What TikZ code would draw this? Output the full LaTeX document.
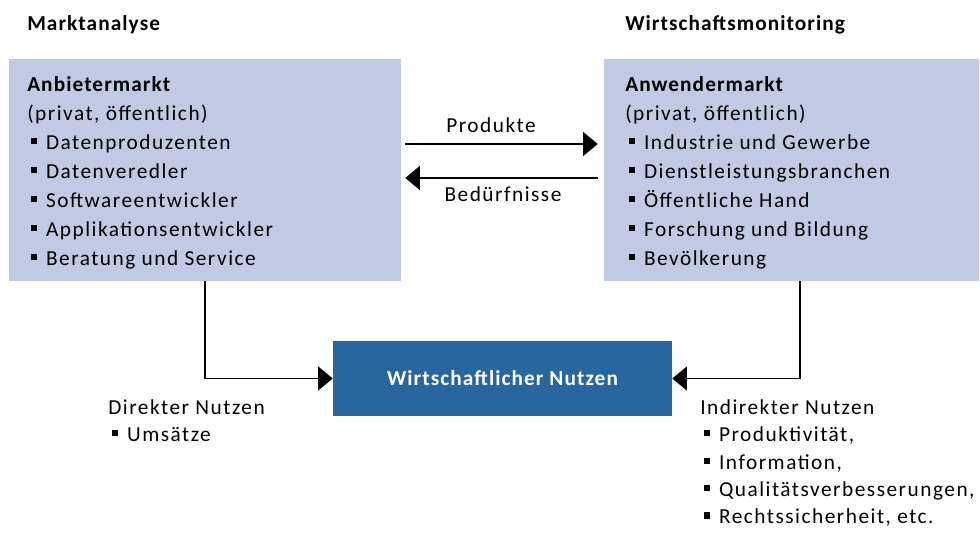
\documentclass[tikz,border=0pt]{standalone}
\usepackage{fontspec}
\setmainfont{Carlito}[LetterSpace=7, BoldFeatures={LetterSpace=5}]
\usetikzlibrary{arrows.meta, positioning, calc}
\definecolor{boxblue}{HTML}{C0CAE3}
\definecolor{nutzblue}{HTML}{27669E}
\newcommand{\sqbullet}{\hspace*{3pt}\rule[4pt]{4.6pt}{4.6pt}\hspace{6.5pt}}

\begin{document}
\begin{tikzpicture}[x=0.75pt, y=0.75pt,
    market/.style={rectangle, fill=boxblue, minimum width=#1, minimum height=166.5pt, inner sep=0pt},
    listtext/.style={anchor=north west, align=left, inner sep=0pt, font=\fontsize{16}{21.75}\selectfont},
    nutztext/.style={anchor=north west, align=left, inner sep=0pt, font=\fontsize{16}{20.6}\selectfont},
    heading/.style={anchor=base west, inner sep=0pt, font=\fontsize{16}{19}\selectfont\bfseries},
    flowlabel/.style={anchor=base, inner sep=0pt, font=\fontsize{16}{19}\selectfont},
    arrow/.style={-{Triangle[length=11pt, width=18pt]}, line width=1.1pt}
]
\useasboundingbox (0,0) rectangle (980,532);

% Headings
\node[heading] (hmarkt) at (27,501) {Marktanalyse};
\node[heading] (hwirt) at (625,501) {Wirtschaftsmonitoring};

% Markets
\node[market=294pt] (anb) at (205,362) {};
\node[market=281.25pt] (anw) at (791.5,362) {};
\node[listtext] (anbtext) at (27,456) {\textbf{Anbietermarkt}\\
  (privat, öffentlich)\\
  \sqbullet Datenproduzenten\\
  \sqbullet Datenveredler\\
  \sqbullet Softwareentwickler\\
  \sqbullet Applikationsentwickler\\
  \sqbullet Beratung und Service};
\node[listtext] (anwtext) at (625,456) {\textbf{Anwendermarkt}\\
  (privat, öffentlich)\\
  \sqbullet Industrie und Gewerbe\\
  \sqbullet Dienstleistungsbranchen\\
  \sqbullet Öffentliche Hand\\
  \sqbullet Forschung und Bildung\\
  \sqbullet Bevölkerung};

% Exchange between the markets
\draw[arrow] ([xshift=3pt, yshift=19.5pt]anb.east) -- ([xshift=-4.5pt, yshift=19.5pt]anw.west);
\draw[arrow] ([xshift=-4.5pt, yshift=-6pt]anw.west) -- ([xshift=3pt, yshift=-6pt]anb.east);
\node[flowlabel] (prod) at (491,399) {Produkte};
\node[flowlabel] (bed) at (503,330) {Bedürfnisse};

% Economic benefit
\node[rectangle, fill=nutzblue, minimum width=254.25pt, minimum height=56.25pt, text=white,
  font=\fontsize{16}{19}\selectfont\bfseries] (nutzen) at (502.5,153.5) {Wirtschaftlicher Nutzen};
\draw[arrow] (anb.south) |- (nutzen.west);
\draw[arrow] ([xshift=6.4pt]anw.south) |- (nutzen.east);

\node[nutztext] (direkt) at (108,133) {Direkter Nutzen\\
  \sqbullet Umsätze};
\node[nutztext] (indirekt) at (700,133) {Indirekter Nutzen\\
  \sqbullet Produktivität,\\
  \sqbullet Information,\\
  \sqbullet Qualitätsverbesserungen,\\
  \sqbullet Rechtssicherheit, etc.};

\end{tikzpicture}
\end{document}
